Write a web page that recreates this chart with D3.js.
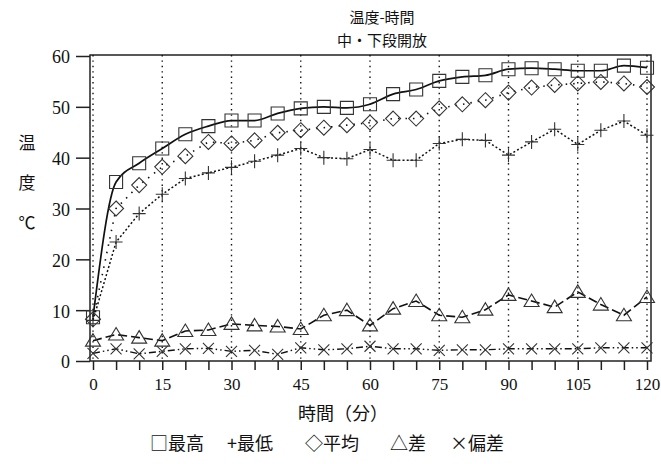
<!DOCTYPE html>
<html>
<head>
<meta charset="utf-8">
<script src="https://cdn.jsdelivr.net/npm/d3@7"></script>
<style>
  html, body { margin: 0; padding: 0; background: #fff; }
  svg { display: block; }
  text { fill: #111; }
</style>
</head>
<body>
<svg id="chart" width="661" height="464"></svg>
<script>
// ---- data ----
const times   = [0, 5, 10, 15, 20, 25, 30, 35, 40, 45, 50, 55, 60, 65, 70, 75, 80, 85, 90, 95, 100, 105, 110, 115, 120];
const maxT    = [8.6, 35.2, 38.9, 41.8, 44.6, 46.2, 47.3, 47.3, 48.7, 49.7, 50.0, 49.8, 50.5, 52.5, 53.4, 55.1, 55.9, 56.2, 57.4, 57.6, 57.4, 57.1, 57.1, 58.1, 57.7];
const minT    = [8.0, 23.4, 29.0, 32.8, 35.9, 37.0, 38.1, 39.3, 40.5, 41.8, 40.0, 39.8, 41.6, 39.5, 39.5, 42.8, 43.6, 43.4, 40.5, 43.1, 45.6, 42.6, 45.4, 47.2, 44.4];
const meanT   = [8.2, 30.0, 34.6, 38.2, 40.3, 43.1, 42.8, 43.4, 44.9, 45.4, 45.9, 46.4, 46.9, 47.7, 47.7, 49.7, 50.5, 51.3, 52.8, 53.8, 54.3, 54.6, 54.9, 54.6, 53.9];
const diffT   = [4.0, 5.2, 4.6, 4.0, 5.9, 6.1, 7.3, 7.0, 6.8, 6.3, 9.0, 10.0, 7.0, 10.3, 11.8, 9.0, 8.6, 10.1, 13.0, 11.8, 10.6, 13.6, 11.1, 9.0, 12.6];
const devT    = [1.5, 2.4, 1.4, 1.9, 2.4, 2.5, 1.9, 2.1, 1.3, 2.6, 2.2, 2.4, 2.9, 2.4, 2.4, 2.1, 2.2, 2.2, 2.4, 2.4, 2.4, 2.4, 2.6, 2.6, 2.6];
const xTickLabels = ["0", "15", "30", "45", "60", "75", "90", "105", "120"];
const xMinorTicks = times;
const yTicks = [0, 10, 20, 30, 40, 50, 60];
const titleLines = ["温度-時間", "中・下段開放"];
const yLabelChars = ["温", "度", "℃"];
const xLabel = "時間（分）";
const legendItems = ["□最高", "+最低", "◇平均", "△差", "×偏差"];

// ---- layout ----
const svg = d3.select("#chart");
const serif = "'Liberation Serif', 'Noto Sans CJK JP', serif";
const cjk = "'Noto Sans CJK JP', 'Liberation Serif', serif";
const frame = { left: 90, right: 651, top: 55, bottom: 361 };
const x = d3.scaleLinear().domain([0, 120]).range([93, 647]);
const y = d3.scaleLinear().domain([0, 60]).range([361, 56]);

// frame
svg.append("rect")
  .attr("x", frame.left).attr("y", frame.top)
  .attr("width", frame.right - frame.left).attr("height", frame.bottom - frame.top)
  .attr("fill", "none").attr("stroke", "#222").attr("stroke-width", 1.5);

// vertical dotted grid lines every 15 min
svg.append("g").selectAll("line")
  .data(xTickLabels.map(Number))
  .join("line")
  .attr("x1", d => x(d)).attr("x2", d => x(d))
  .attr("y1", frame.top).attr("y2", frame.bottom)
  .attr("stroke", "#111").attr("stroke-width", 1.4)
  .attr("stroke-dasharray", "1.4,4");

// y axis
const yAxis = d3.axisLeft(y).tickValues(yTicks).tickSize(14).tickPadding(6).tickFormat(d3.format("d"));
const gy = svg.append("g").attr("transform", `translate(${frame.left},0)`).call(yAxis);
gy.select(".domain").remove();
gy.selectAll(".tick line").attr("stroke", "#222").attr("stroke-width", 1.5);
gy.selectAll(".tick text").attr("font-family", serif).attr("font-size", 18).attr("fill", "#111").attr("dy", "0.38em");

// x axis: minor ticks every 5, labels every 15
const xAxis = d3.axisBottom(x).tickValues(xMinorTicks).tickSize(9).tickPadding(8)
  .tickFormat(d => xTickLabels.includes(String(d)) ? String(d) : "");
const gx = svg.append("g").attr("transform", `translate(0,${frame.bottom})`).call(xAxis);
gx.select(".domain").remove();
gx.selectAll(".tick line").attr("stroke", "#222").attr("stroke-width", 1.5);
gx.selectAll(".tick text").attr("font-family", serif).attr("font-size", 17).attr("fill", "#111");

// ---- series ----
const series = [
  { vals: maxT,  dash: null,               width: 1.7, curve: d3.curveMonotoneX, marker: "square" },
  { vals: minT,  dash: "2,2.2",            width: 1.5, curve: d3.curveLinear,    marker: "plus" },
  { vals: meanT, dash: "1.5,6",            width: 1.6, curve: d3.curveLinear,    marker: "diamond" },
  { vals: diffT, dash: "9,4",              width: 1.6, curve: d3.curveLinear,    marker: "triangle" },
  { vals: devT,  dash: "7,3,1.5,3,1.5,3",  width: 1.4, curve: d3.curveLinear,    marker: "cross" }
];

const markerPath = {
  square:   "M-6.5,-6.5H6.5V6.5H-6.5Z",
  plus:     "M-6.5,0H6.5M0,-7V7",
  diamond:  "M0,-7.5L7.5,0L0,7.5L-7.5,0Z",
  triangle: "M0,-7L7.5,5.5H-7.5Z",
  cross:    "M-5.5,-5.5L5.5,5.5M5.5,-5.5L-5.5,5.5"
};

series.forEach(s => {
  const pts = times.map((t, i) => [t, s.vals[i]]);
  const line = d3.line().x(d => x(d[0])).y(d => y(d[1])).curve(s.curve);
  svg.append("path")
    .attr("d", line(pts))
    .attr("fill", "none").attr("stroke", "#111")
    .attr("stroke-width", s.width)
    .attr("stroke-dasharray", s.dash);
  svg.append("g").selectAll("path")
    .data(pts)
    .join("path")
    .attr("transform", d => `translate(${x(d[0])},${y(d[1])})`)
    .attr("d", markerPath[s.marker])
    .attr("fill", "none").attr("stroke", "#333").attr("stroke-width", 1.1);
});

// ---- texts ----
svg.append("g").selectAll("text")
  .data(titleLines)
  .join("text")
  .attr("x", 382).attr("y", (d, i) => 16 + i * 23)
  .attr("text-anchor", "middle").attr("dominant-baseline", "central")
  .attr("font-family", cjk).attr("font-size", 15)
  .text(d => d);

svg.append("g").selectAll("text")
  .data(yLabelChars)
  .join("text")
  .attr("x", 27).attr("y", (d, i) => 141 + i * 40)
  .attr("text-anchor", "middle").attr("dominant-baseline", "central")
  .attr("font-family", cjk).attr("font-size", 17)
  .text(d => d);

svg.append("text")
  .attr("x", 343).attr("y", 412)
  .attr("text-anchor", "middle").attr("dominant-baseline", "central")
  .attr("font-family", cjk).attr("font-size", 18)
  .text(xLabel);

const legendX = [150, 227, 305, 390, 450];
svg.append("g").selectAll("text")
  .data(legendItems)
  .join("text")
  .attr("x", (d, i) => legendX[i]).attr("y", 442)
  .attr("dominant-baseline", "central")
  .attr("font-family", cjk).attr("font-size", 18)
  .text(d => d);
</script>
</body>
</html>
